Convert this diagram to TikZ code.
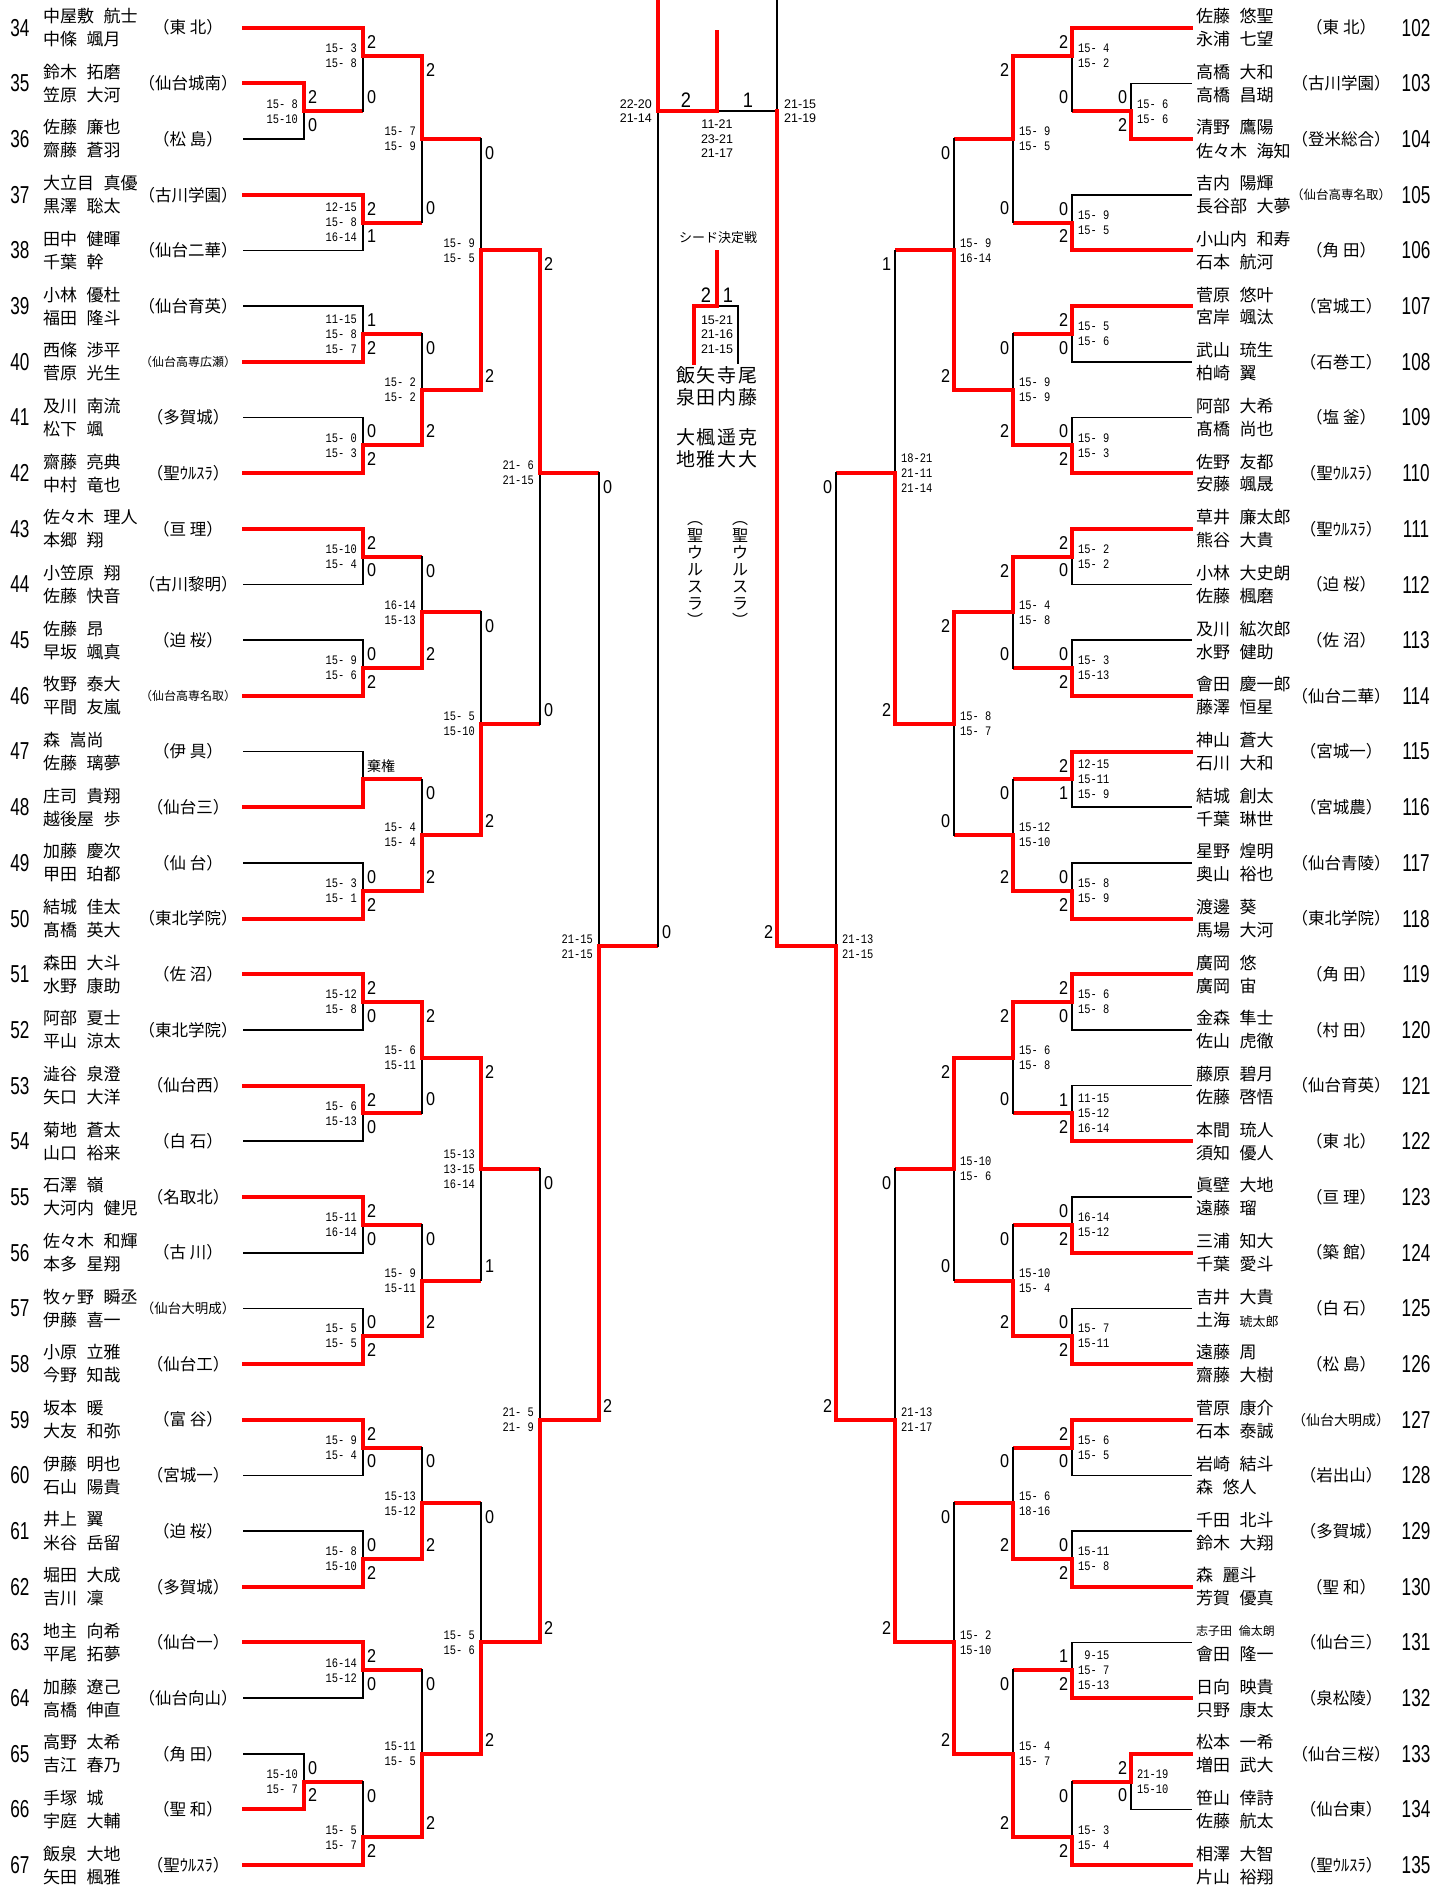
\documentclass[tikz,border=0pt]{standalone}
\usepackage{fontspec}
\setmainfont{Noto Sans CJK JP}[WordSpace=2.5]
\newfontfamily\entfont{Liberation Sans}[FakeStretch=0.7]
\newfontfamily\resfont{Liberation Sans}[FakeStretch=0.87]
\newfontfamily\scorefont{Liberation Mono}[FakeStretch=0.8]
\newfontfamily\midfont{Liberation Sans}

\newcommand{\dirn}{1}
% #1 column, #2 top row, #3 bottom row, #4 exit row, #5 winner row, #6/#7 games, #8 scores
\newcommand{\game}[8]{%
  \draw[lost] (#1,#2) -- (#1,#3);
  \draw[won] (#1,#5) -- (#1,#4) -- ({#1+57*\dirn},#4);
  \node[res,yshift=-14pt] (t#1-#4) at ({#1+8.5*\dirn},#2) {#6};
  \node[res,yshift=14pt] (b#1-#4) at ({#1+8.5*\dirn},#3) {#7};
  \node[sc] (s#1-#4) at (#1,#4) {#8};
}
\newcommand{\lpair}[5]{%
  \node[num] (n#2) at (20,#1) {#2};
  \node[who,yshift=11.5pt] (f#2) at (43,#1) {#3};
  \node[who,yshift=-11.5pt] (g#2) at (43,#1) {#4};
  \node[club] (c#2) at (188,#1) {#5};
}
\newcommand{\rpair}[5]{%
  \node[num] (n#2) at (1416,#1) {#2};
  \node[who,yshift=11.5pt] (f#2) at (1196,#1) {#3};
  \node[who,yshift=-11.5pt] (g#2) at (1196,#1) {#4};
  \node[club] (c#2) at (1341,#1) {#5};
}
\newcommand{\sclub}[2]{{\fontsize{#1}{#1}\selectfont #2}}
\newcommand{\tw}[2]{（#1\kern4pt #2）}

\begin{document}
\begin{tikzpicture}[x=1pt,y=-27.84pt,
  won/.style={draw=red,line width=4pt,line cap=rect},
  lost/.style={draw=black,line width=1.7pt,line cap=rect},
  num/.style={inner sep=0pt,font=\entfont\fontsize{24.5}{24.5}\selectfont},
  who/.style={inner sep=0pt,anchor=west,font=\fontsize{17}{17}\selectfont},
  club/.style={inner sep=0pt,font=\fontsize{16.5}{16.5}\selectfont},
  res/.style={inner sep=0pt,font=\resfont\fontsize{18.6}{18.6}\selectfont},
  big/.style={inner sep=0pt,font=\resfont\fontsize{21}{21}\selectfont},
  sc/.style={inner sep=0pt,anchor=east,xshift=-6pt,align=right,font=\scorefont\fontsize{13}{15}\selectfont},
  mid/.style={inner sep=0pt,align=center,font=\midfont\fontsize{12.5}{14.5}\selectfont},
  seedn/.style={inner sep=0pt,align=center,font=\fontsize{19}{22}\selectfont},
  vclub/.style={inner sep=0pt,align=center,font=\fontsize{16}{17}\selectfont}]
\useasboundingbox (0,-0.995) rectangle (1433,66.821);

% left players
\lpair{0}{34}{中屋敷 航士}{中條 颯月}{\tw{東}{北}}
\lpair{2}{35}{鈴木 拓磨}{笠原 大河}{（仙台城南）}
\lpair{4}{36}{佐藤 廉也}{齋藤 蒼羽}{\tw{松}{島}}
\lpair{6}{37}{大立目 真優}{黒澤 聡太}{（古川学園）}
\lpair{8}{38}{田中 健暉}{千葉 幹}{（仙台二華）}
\lpair{10}{39}{小林 優杜}{福田 隆斗}{（仙台育英）}
\lpair{12}{40}{西條 渉平}{菅原 光生}{\sclub{12}{（仙台高専広瀬）}}
\lpair{14}{41}{及川 南流}{松下 颯}{（多賀城）}
\lpair{16}{42}{齋藤 亮典}{中村 竜也}{（聖ｳﾙｽﾗ）}
\lpair{18}{43}{佐々木 理人}{本郷 翔}{\tw{亘}{理}}
\lpair{20}{44}{小笠原 翔}{佐藤 快音}{（古川黎明）}
\lpair{22}{45}{佐藤 昂}{早坂 颯真}{\tw{迫}{桜}}
\lpair{24}{46}{牧野 泰大}{平間 友嵐}{\sclub{12}{（仙台高専名取）}}
\lpair{26}{47}{森 嵩尚}{佐藤 璃夢}{\tw{伊}{具}}
\lpair{28}{48}{庄司 貴翔}{越後屋 歩}{（仙台三）}
\lpair{30}{49}{加藤 慶次}{甲田 珀都}{\tw{仙}{台}}
\lpair{32}{50}{結城 佳太}{髙橋 英大}{（東北学院）}
\lpair{34}{51}{森田 大斗}{水野 康助}{\tw{佐}{沼}}
\lpair{36}{52}{阿部 夏士}{平山 涼太}{（東北学院）}
\lpair{38}{53}{澁谷 泉澄}{矢口 大洋}{（仙台西）}
\lpair{40}{54}{菊地 蒼太}{山口 裕来}{\tw{白}{石}}
\lpair{42}{55}{石澤 嶺}{大河内 健児}{（名取北）}
\lpair{44}{56}{佐々木 和輝}{本多 星翔}{\tw{古}{川}}
\lpair{46}{57}{牧ヶ野 瞬丞}{伊藤 喜一}{\sclub{13.5}{（仙台大明成）}}
\lpair{48}{58}{小原 立雅}{今野 知哉}{（仙台工）}
\lpair{50}{59}{坂本 暖}{大友 和弥}{\tw{富}{谷}}
\lpair{52}{60}{伊藤 明也}{石山 陽貴}{（宮城一）}
\lpair{54}{61}{井上 翼}{米谷 岳留}{\tw{迫}{桜}}
\lpair{56}{62}{堀田 大成}{吉川 凜}{（多賀城）}
\lpair{58}{63}{地主 向希}{平尾 拓夢}{（仙台一）}
\lpair{60}{64}{加藤 遼己}{高橋 伸直}{（仙台向山）}
\lpair{62}{65}{高野 太希}{吉江 春乃}{\tw{角}{田}}
\lpair{64}{66}{手塚 城}{宇庭 大輔}{\tw{聖}{和}}
\lpair{66}{67}{飯泉 大地}{矢田 楓雅}{（聖ｳﾙｽﾗ）}

% right players
\rpair{0}{102}{佐藤 悠聖}{永浦 七望}{\tw{東}{北}}
\rpair{2}{103}{高橋 大和}{高橋 昌瑚}{（古川学園）}
\rpair{4}{104}{清野 鷹陽}{佐々木 海知}{（登米総合）}
\rpair{6}{105}{吉内 陽輝}{長谷部 大夢}{\sclub{12.5}{（仙台高専名取）}}
\rpair{8}{106}{小山内 和寿}{石本 航河}{\tw{角}{田}}
\rpair{10}{107}{菅原 悠叶}{宮岸 颯汰}{（宮城工）}
\rpair{12}{108}{武山 琉生}{柏崎 翼}{（石巻工）}
\rpair{14}{109}{阿部 大希}{髙橋 尚也}{\tw{塩}{釜}}
\rpair{16}{110}{佐野 友都}{安藤 颯晟}{（聖ｳﾙｽﾗ）}
\rpair{18}{111}{草井 廉太郎}{熊谷 大貴}{（聖ｳﾙｽﾗ）}
\rpair{20}{112}{小林 大史朗}{佐藤 楓磨}{\tw{迫}{桜}}
\rpair{22}{113}{及川 絋次郎}{水野 健助}{\tw{佐}{沼}}
\rpair{24}{114}{會田 慶一郎}{藤澤 恒星}{（仙台二華）}
\rpair{26}{115}{神山 蒼大}{石川 大和}{（宮城一）}
\rpair{28}{116}{結城 創太}{千葉 琳世}{（宮城農）}
\rpair{30}{117}{星野 煌明}{奥山 裕也}{（仙台青陵）}
\rpair{32}{118}{渡邊 葵}{馬場 大河}{（東北学院）}
\rpair{34}{119}{廣岡 悠}{廣岡 宙}{\tw{角}{田}}
\rpair{36}{120}{金森 隼士}{佐山 虎徹}{\tw{村}{田}}
\rpair{38}{121}{藤原 碧月}{佐藤 啓悟}{（仙台育英）}
\rpair{40}{122}{本間 琉人}{須知 優人}{\tw{東}{北}}
\rpair{42}{123}{眞壁 大地}{遠藤 瑠}{\tw{亘}{理}}
\rpair{44}{124}{三浦 知大}{千葉 愛斗}{\tw{築}{館}}
\rpair{46}{125}{吉井 大貴}{土海 {\fontsize{13}{13}\selectfont 琥太郎}}{\tw{白}{石}}
\rpair{48}{126}{遠藤 周}{齋藤 大樹}{\tw{松}{島}}
\rpair{50}{127}{菅原 康介}{石本 泰誠}{\sclub{14}{（仙台大明成）}}
\rpair{52}{128}{岩崎 結斗}{森 悠人}{（岩出山）}
\rpair{54}{129}{千田 北斗}{鈴木 大翔}{（多賀城）}
\rpair{56}{130}{森 麗斗}{芳賀 優真}{\tw{聖}{和}}
\rpair{58}{131}{\fontsize{12}{12}\selectfont 志子田 倫太朗}{會田 隆一}{（仙台三）}
\rpair{60}{132}{日向 映貴}{只野 康太}{（泉松陵）}
\rpair{62}{133}{松本 一希}{増田 武大}{（仙台三桜）}
\rpair{64}{134}{笹山 倖詩}{佐藤 航太}{（仙台東）}
\rpair{66}{135}{相澤 大智}{片山 裕翔}{（聖ｳﾙｽﾗ）}

% first lines
\foreach \kk/\cc/\st in {0/363/won,2/304/won,4/304/lost,6/363/won,8/363/lost,10/363/lost,
    12/363/won,14/363/lost,16/363/won,18/363/won,20/363/lost,22/363/lost,24/363/won,
    26/363/lost,28/363/won,30/363/lost,32/363/won,34/363/won,36/363/lost,38/363/won,
    40/363/lost,42/363/won,44/363/lost,46/363/lost,48/363/won,50/363/won,52/363/lost,
    54/363/lost,56/363/won,58/363/won,60/363/lost,62/304/lost,64/304/won,66/363/won}
  \draw[\st] (244,\kk) -- (\cc,\kk);
\foreach \kk/\cc/\st in {0/1072/won,2/1131/lost,4/1131/won,6/1072/lost,8/1072/won,
    10/1072/won,12/1072/lost,14/1072/lost,16/1072/won,18/1072/won,20/1072/lost,
    22/1072/lost,24/1072/won,26/1072/won,28/1072/lost,30/1072/lost,32/1072/won,
    34/1072/won,36/1072/lost,38/1072/lost,40/1072/won,42/1072/lost,44/1072/won,
    46/1072/lost,48/1072/won,50/1072/won,52/1072/lost,54/1072/lost,56/1072/won,
    58/1072/lost,60/1072/won,62/1131/won,64/1131/lost,66/1072/won}
  \draw[\st] (1191,\kk) -- (\cc,\kk);

% left bracket
\game{304}{2}{4}{3}{2}{2}{0}{15- 8\\15-10}
\game{363}{0}{3}{1}{0}{2}{0}{15- 3\\15- 8}
\game{363}{6}{8}{7}{6}{2}{1}{12-15\\15- 8\\16-14}
\game{422}{1}{7}{4}{1}{2}{0}{15- 7\\15- 9}
\game{363}{10}{12}{11}{12}{1}{2}{11-15\\15- 8\\15- 7}
\game{363}{14}{16}{15}{16}{0}{2}{15- 0\\15- 3}
\game{422}{11}{15}{13}{15}{0}{2}{15- 2\\15- 2}
\game{481}{4}{13}{8}{13}{0}{2}{15- 9\\15- 5}
\game{363}{18}{20}{19}{18}{2}{0}{15-10\\15- 4}
\game{363}{22}{24}{23}{24}{0}{2}{15- 9\\15- 6}
\game{422}{19}{23}{21}{23}{0}{2}{16-14\\15-13}
\game{363}{26}{28}{27}{28}{}{}{}
\node[inner sep=0pt,anchor=west,yshift=-15pt,font=\fontsize{14}{14}\selectfont] (kiken) at (367,26) {棄権};
\game{363}{30}{32}{31}{32}{0}{2}{15- 3\\15- 1}
\game{422}{27}{31}{29}{31}{0}{2}{15- 4\\15- 4}
\game{481}{21}{29}{25}{29}{0}{2}{15- 5\\15-10}
\game{540}{8}{25}{16}{8}{2}{0}{21- 6\\21-15}
\game{363}{34}{36}{35}{34}{2}{0}{15-12\\15- 8}
\game{363}{38}{40}{39}{38}{2}{0}{15- 6\\15-13}
\game{422}{35}{39}{37}{35}{2}{0}{15- 6\\15-11}
\game{363}{42}{44}{43}{42}{2}{0}{15-11\\16-14}
\game{363}{46}{48}{47}{48}{0}{2}{15- 5\\15- 5}
\game{422}{43}{47}{45}{47}{0}{2}{15- 9\\15-11}
\game{481}{37}{45}{41}{37}{2}{1}{15-13\\13-15\\16-14}
\game{363}{50}{52}{51}{50}{2}{0}{15- 9\\15- 4}
\game{363}{54}{56}{55}{56}{0}{2}{15- 8\\15-10}
\game{422}{51}{55}{53}{55}{0}{2}{15-13\\15-12}
\game{363}{58}{60}{59}{58}{2}{0}{16-14\\15-12}
\game{304}{62}{64}{63}{64}{0}{2}{15-10\\15- 7}
\game{363}{63}{66}{65}{66}{0}{2}{15- 5\\15- 7}
\game{422}{59}{65}{62}{65}{0}{2}{15-11\\15- 5}
\game{481}{53}{62}{58}{62}{0}{2}{15- 5\\15- 6}
\game{540}{41}{58}{50}{58}{0}{2}{21- 5\\21- 9}
\game{599}{16}{50}{33}{50}{0}{2}{21-15\\21-15}

% right bracket
\renewcommand{\dirn}{-1}
\tikzset{sc/.style={inner sep=0pt,anchor=west,xshift=6pt,align=left,font=\scorefont\fontsize{13}{15}\selectfont}}
\game{1131}{2}{4}{3}{4}{0}{2}{15- 6\\15- 6}
\game{1072}{0}{3}{1}{0}{2}{0}{15- 4\\15- 2}
\game{1072}{6}{8}{7}{8}{0}{2}{15- 9\\15- 5}
\game{1013}{1}{7}{4}{1}{2}{0}{15- 9\\15- 5}
\game{1072}{10}{12}{11}{10}{2}{0}{15- 5\\15- 6}
\game{1072}{14}{16}{15}{16}{0}{2}{15- 9\\15- 3}
\game{1013}{11}{15}{13}{15}{0}{2}{15- 9\\15- 9}
\game{954}{4}{13}{8}{13}{0}{2}{15- 9\\16-14}
\game{1072}{18}{20}{19}{18}{2}{0}{15- 2\\15- 2}
\game{1072}{22}{24}{23}{24}{0}{2}{15- 3\\15-13}
\game{1013}{19}{23}{21}{19}{2}{0}{15- 4\\15- 8}
\game{1072}{26}{28}{27}{26}{2}{1}{12-15\\15-11\\15- 9}
\game{1072}{30}{32}{31}{32}{0}{2}{15- 8\\15- 9}
\game{1013}{27}{31}{29}{31}{0}{2}{15-12\\15-10}
\game{954}{21}{29}{25}{21}{2}{0}{15- 8\\15- 7}
\game{895}{8}{25}{16}{25}{1}{2}{18-21\\21-11\\21-14}
\game{1072}{34}{36}{35}{34}{2}{0}{15- 6\\15- 8}
\game{1072}{38}{40}{39}{40}{1}{2}{11-15\\15-12\\16-14}
\game{1013}{35}{39}{37}{35}{2}{0}{15- 6\\15- 8}
\game{1072}{42}{44}{43}{44}{0}{2}{16-14\\15-12}
\game{1072}{46}{48}{47}{48}{0}{2}{15- 7\\15-11}
\game{1013}{43}{47}{45}{47}{0}{2}{15-10\\15- 4}
\game{954}{37}{45}{41}{37}{2}{0}{15-10\\15- 6}
\game{1072}{50}{52}{51}{50}{2}{0}{15- 6\\15- 5}
\game{1072}{54}{56}{55}{56}{0}{2}{15-11\\15- 8}
\game{1013}{51}{55}{53}{55}{0}{2}{15- 6\\18-16}
\game{1072}{58}{60}{59}{60}{1}{2}{\phantom{0}9-15\\15- 7\\15-13}
\game{1131}{62}{64}{63}{62}{2}{0}{21-19\\15-10}
\game{1072}{63}{66}{65}{66}{0}{2}{15- 3\\15- 4}
\game{1013}{59}{65}{62}{65}{0}{2}{15- 4\\15- 7}
\game{954}{53}{62}{58}{62}{0}{2}{15- 2\\15-10}
\game{895}{41}{58}{50}{58}{0}{2}{21-13\\21-17}
\game{836}{16}{50}{33}{50}{0}{2}{21-13\\21-15}

% centre
\draw[lost] (658,3) -- (658,33);
\draw[lost] (777,-1.2) -- (777,3) -- (717,3);
\draw[won] (658,-1.2) -- (658,3) -- (715,3);
\draw[won] (717,3) -- (717,0.15);
\draw[won] (777,3) -- (777,33);
\node[big] (cl) at (686,2.6) {2};
\node[big] (cr) at (748,2.6) {1};
\node[mid,anchor=east] (csl) at (652,3) {22-20\\21-14};
\node[mid,anchor=west] (csr) at (784,3) {21-15\\21-19};
\node[mid] (csm) at (717,4) {11-21\\23-21\\21-17};
\node[res,yshift=14pt] (fl) at (666.5,33) {0};
\node[res,yshift=14pt] (fr) at (768.5,33) {2};

% seed match
\node[inner sep=0pt,font=\fontsize{13}{13}\selectfont] (seed) at (718,7.55) {シード決定戦};
\draw[lost] (717,10) -- (738,10) -- (738,12.04);
\draw[won] (717,8.06) -- (717,10) -- (694,10) -- (694,12.04);
\node[big] (s2) at (706,9.6) {2};
\node[big] (s1) at (728,9.6) {1};
\node[mid] (ssc) at (717,11.01) {15-21\\21-16\\21-15};
\node[seedn] (p1) at (686,14) {飯\\泉\\[18pt]大\\地};
\node[seedn] (p2) at (706,14) {矢\\田\\[18pt]楓\\雅};
\node[seedn] (p3) at (726.5,14) {寺\\内\\[18pt]遥\\大};
\node[seedn] (p4) at (748,14) {尾\\藤\\[18pt]克\\大};
\node[vclub] (v1) at (695,19.64) {︵\\聖\\ウ\\ル\\ス\\ラ\\︶};
\node[vclub] (v2) at (740,19.64) {︵\\聖\\ウ\\ル\\ス\\ラ\\︶};
\end{tikzpicture}
\end{document}
